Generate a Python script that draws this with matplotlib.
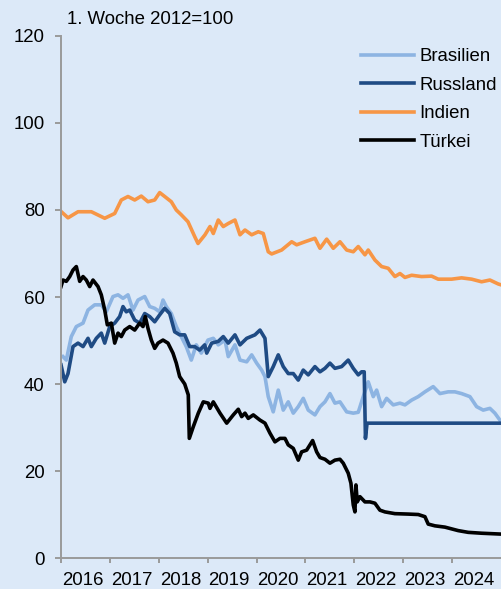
import matplotlib
matplotlib.use("Agg")
import matplotlib.pyplot as plt
from matplotlib.ticker import FixedLocator, NullFormatter

plt.rcParams['font.family'] = ['Liberation Sans', 'DejaVu Sans']
FS = 13.4
plt.rcParams['font.size'] = FS

# Index values, first week of 2012 = 100 (dates as decimal years)
brasilien_t = [2016.04, 2016.108, 2016.21, 2016.313, 2016.45, 2016.552, 2016.689, 2016.824, 2016.926,
               2017.063, 2017.166, 2017.268, 2017.37, 2017.472, 2017.575, 2017.712, 2017.814, 2017.916,
               2018.018, 2018.086, 2018.153, 2018.256, 2018.358, 2018.46, 2018.562, 2018.665, 2018.767,
               2018.869, 2019.006, 2019.115, 2019.217, 2019.354, 2019.421, 2019.558, 2019.661, 2019.798,
               2019.9, 2020.002, 2020.104, 2020.172, 2020.239, 2020.341, 2020.444, 2020.546, 2020.648,
               2020.751, 2020.853, 2020.955, 2021.057, 2021.194, 2021.297, 2021.399, 2021.501, 2021.603,
               2021.706, 2021.843, 2021.978, 2022.08, 2022.182, 2022.284, 2022.387, 2022.456, 2022.558,
               2022.66, 2022.796, 2022.933, 2023.035, 2023.172, 2023.307, 2023.444, 2023.613, 2023.751,
               2023.92, 2024.057, 2024.194, 2024.364, 2024.501, 2024.636, 2024.773, 2024.875, 2024.978]
brasilien_v = [46.3, 45.5, 50.9, 53.2, 54.0, 57.0, 58.2, 58.2, 56.6,
               60.1, 60.5, 59.7, 60.5, 57.0, 59.3, 60.1, 57.8, 57.4,
               56.6, 59.3, 57.8, 56.2, 53.2, 50.9, 48.6, 45.5, 49.0,
               47.1, 50.1, 50.5, 49.0, 50.1, 46.3, 49.0, 45.5, 45.1,
               46.7, 44.8, 43.2, 41.7, 37.1, 33.6, 38.6, 34.0, 35.9,
               33.3, 34.8, 36.7, 34.0, 32.9, 34.8, 35.9, 37.8, 35.6,
               35.9, 33.6, 33.3, 33.5, 37.1, 40.5, 37.1, 38.6, 34.8,
               36.7, 35.2, 35.6, 35.2, 36.3, 37.1, 38.2, 39.4, 37.8,
               38.2, 38.2, 37.8, 37.1, 34.8, 34.0, 34.4, 33.3, 31.7]

russland_t = [2016.0, 2016.076, 2016.143, 2016.245, 2016.348, 2016.45, 2016.552, 2016.62, 2016.722,
              2016.824, 2016.894, 2016.996, 2017.098, 2017.2, 2017.268, 2017.335, 2017.405, 2017.507,
              2017.609, 2017.712, 2017.814, 2017.916, 2018.018, 2018.121, 2018.223, 2018.325, 2018.427,
              2018.53, 2018.632, 2018.734, 2018.836, 2018.939, 2018.98, 2019.082, 2019.217, 2019.319,
              2019.421, 2019.558, 2019.661, 2019.798, 2019.967, 2020.07, 2020.172, 2020.239, 2020.341,
              2020.444, 2020.546, 2020.648, 2020.751, 2020.853, 2020.955, 2021.057, 2021.194, 2021.297,
              2021.399, 2021.501, 2021.603, 2021.74, 2021.875, 2021.978, 2022.08, 2022.149, 2022.202,
              2022.227, 2022.26, 2025.0]
russland_v = [44.4, 40.5, 42.4, 48.6, 49.4, 48.6, 50.5, 48.6, 50.5,
              51.7, 49.4, 53.2, 54.0, 55.5, 57.8, 56.6, 57.0, 54.7,
              54.0, 56.2, 55.5, 54.3, 55.9, 57.4, 56.2, 52.0, 51.3,
              51.3, 48.6, 48.6, 47.8, 49.0, 47.1, 49.4, 49.8, 50.9,
              49.4, 51.3, 49.0, 50.5, 51.3, 52.4, 50.5, 41.7, 44.0,
              46.7, 44.0, 42.4, 42.4, 40.9, 43.2, 42.1, 44.0, 42.8,
              43.6, 44.8, 43.6, 44.0, 45.5, 43.6, 42.1, 42.8, 42.8,
              27.5, 31.0, 31.0]

indien_t = [2016.006, 2016.143, 2016.348, 2016.62, 2016.894, 2017.098, 2017.233, 2017.37, 2017.507,
            2017.642, 2017.779, 2017.916, 2018.018, 2018.121, 2018.256, 2018.358, 2018.46, 2018.597,
            2018.734, 2018.802, 2018.945, 2019.047, 2019.115, 2019.217, 2019.319, 2019.421, 2019.558,
            2019.661, 2019.763, 2019.9, 2020.035, 2020.137, 2020.239, 2020.309, 2020.513, 2020.718,
            2020.82, 2020.99, 2021.194, 2021.297, 2021.434, 2021.569, 2021.706, 2021.843, 2021.978,
            2022.08, 2022.217, 2022.284, 2022.421, 2022.558, 2022.693, 2022.83, 2022.933, 2023.035,
            2023.172, 2023.376, 2023.581, 2023.716, 2023.99, 2024.194, 2024.399, 2024.603, 2024.773,
            2024.943, 2025.0]
indien_v = [79.6, 78.2, 79.6, 79.6, 78.1, 79.2, 82.3, 83.1, 82.3,
            83.2, 81.9, 82.3, 84.0, 83.1, 81.9, 80.0, 78.9, 77.3,
            73.9, 72.3, 74.3, 76.2, 74.6, 77.7, 76.2, 76.9, 77.7,
            74.3, 75.4, 74.3, 75.0, 74.6, 70.4, 69.9, 70.8, 72.7,
            72.0, 72.7, 73.5, 71.2, 73.3, 71.2, 72.7, 70.8, 70.4,
            71.6, 69.7, 70.8, 68.5, 67.0, 66.6, 64.7, 65.4, 64.5,
            65.0, 64.7, 64.8, 64.1, 64.1, 64.4, 64.1, 63.5, 63.9,
            63.0, 62.8]

tuerkei_t = [2016.0, 2016.04, 2016.108, 2016.178, 2016.245, 2016.313, 2016.382, 2016.45, 2016.517,
             2016.587, 2016.654, 2016.757, 2016.824, 2016.894, 2016.947, 2017.029, 2017.098, 2017.166,
             2017.233, 2017.303, 2017.405, 2017.507, 2017.609, 2017.677, 2017.724, 2017.779, 2017.847,
             2017.916, 2017.984, 2018.086, 2018.188, 2018.29, 2018.358, 2018.427, 2018.53, 2018.603,
             2018.624, 2018.706, 2018.808, 2018.91, 2019.012, 2019.047, 2019.115, 2019.252, 2019.389,
             2019.524, 2019.626, 2019.695, 2019.763, 2019.83, 2019.933, 2020.07, 2020.172, 2020.274,
             2020.376, 2020.479, 2020.581, 2020.648, 2020.751, 2020.853, 2020.922, 2021.025, 2021.147,
             2021.229, 2021.297, 2021.399, 2021.501, 2021.603, 2021.706, 2021.773, 2021.875, 2021.93,
             2021.978, 2022.012, 2022.033, 2022.059, 2022.115, 2022.217, 2022.319, 2022.421, 2022.523,
             2022.626, 2022.83, 2023.102, 2023.307, 2023.444, 2023.511, 2023.648, 2023.853, 2024.125,
             2024.329, 2024.603, 2025.0]
tuerkei_v = [62.4, 63.9, 63.6, 64.7, 66.2, 67.0, 63.6, 64.7, 63.9,
             62.4, 63.9, 62.4, 60.5, 57.0, 53.6, 54.0, 49.4, 51.7,
             50.9, 52.4, 53.2, 52.4, 54.0, 53.2, 55.5, 52.8, 50.1,
             48.2, 49.4, 50.1, 49.4, 47.1, 44.8, 41.7, 40.0, 37.5,
             27.5, 30.2, 33.3, 35.9, 35.6, 34.4, 35.9, 33.3, 31.0,
             32.9, 34.2, 32.5, 33.3, 32.1, 32.9, 31.7, 31.0, 28.7,
             26.7, 27.5, 27.5, 26.0, 25.2, 22.5, 24.4, 24.8, 27.0,
             24.4, 23.1, 22.7, 21.8, 22.5, 22.7, 21.8, 19.5, 17.2,
             12.2, 10.6, 16.8, 12.9, 14.1, 12.9, 12.9, 12.6, 11.0,
             10.6, 10.2, 10.1, 10.0, 9.5, 7.8, 7.4, 7.1, 6.3,
             5.9, 5.7, 5.5]

years = [2016, 2017, 2018, 2019, 2020, 2021, 2022, 2023, 2024]
y_ticks = [0, 20, 40, 60, 80, 100, 120]
unit_label = "1. Woche 2012=100"

bg = "#dce9f8"
fig = plt.figure(figsize=(5.01, 5.89), dpi=100, facecolor=bg)
ax = fig.add_axes([0.1218, 0.0526, 0.8782, 0.8863], facecolor=bg)

lw = 2.6
ax.plot(brasilien_t, brasilien_v, color="#8db4e2", lw=lw, label="Brasilien", solid_joinstyle="round")
ax.plot(russland_t, russland_v, color="#1f4b84", lw=lw, label="Russland", solid_joinstyle="round")
ax.plot(indien_t, indien_v, color="#f79646", lw=lw, label="Indien", solid_joinstyle="round")
ax.plot(tuerkei_t, tuerkei_v, color="#000000", lw=lw, label="Türkei", solid_joinstyle="round")

ax.set_xlim(2016, 2025)
ax.set_ylim(0, 120)

for side in ("top", "right"):
    ax.spines[side].set_visible(False)
for side in ("left", "bottom"):
    ax.spines[side].set_color("#9a9a9a")
    ax.spines[side].set_linewidth(1.4)

ax.set_yticks(y_ticks)
ax.set_yticklabels([str(v) for v in y_ticks])
ax.tick_params(axis="y", length=4.3, width=1.4, color="#9a9a9a", pad=7.5, labelsize=FS)

# year ticks at boundaries, labels centred within each year
ax.xaxis.set_major_locator(FixedLocator(years))
ax.xaxis.set_major_formatter(NullFormatter())
ax.xaxis.set_minor_locator(FixedLocator([y + 0.44 for y in years]))
ax.set_xticklabels([str(y) for y in years], minor=True)
ax.tick_params(axis="x", which="major", length=3.8, width=1.4, color="#9a9a9a")
ax.tick_params(axis="x", which="minor", length=0, pad=10, labelsize=FS)

fig.text(67 / 501, 1 - 20 / 589, unit_label, fontsize=FS, va="center", ha="left")

leg = ax.legend(loc="upper left", bbox_to_anchor=(361 / 501, 1 - 48 / 589),
                bbox_transform=fig.transFigure, frameon=False, borderpad=0,
                handlelength=2.85, handletextpad=0.28, labelspacing=0.62,
                borderaxespad=0, fontsize=FS)

fig.savefig("out.png", dpi=100, facecolor=bg)
